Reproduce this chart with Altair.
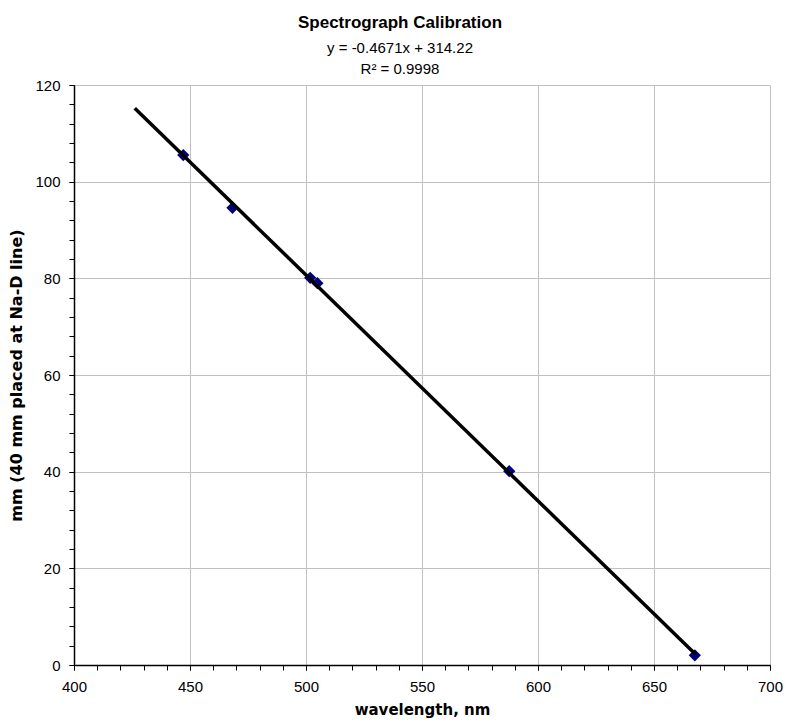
import altair as alt
import pandas as pd

# data
wavelength_nm = [447.1, 468.3, 501.8, 504.9, 587.6, 667.6]
mm_position = [105.5, 94.6, 80.1, 79.0, 40.1, 2.0]
trend_extent = [426.2, 668.0]

x_major = [400, 450, 500, 550, 600, 650, 700]
x_minor = list(range(400, 701, 10))
y_major = [0, 20, 40, 60, 80, 100, 120]
y_minor = list(range(0, 121, 4))

df = pd.DataFrame({"wl": wavelength_nm, "mm": mm_position})

FONT = "Liberation Sans"
TITLE_FONT = "DejaVu Sans"

xscale = alt.Scale(domain=[400, 700], nice=False, zero=False)
yscale = alt.Scale(domain=[0, 120], nice=False, zero=True)

base = alt.Chart(df)

points = base.mark_point(shape="diamond", filled=True, color="#000080", size=150, opacity=1).encode(
    x=alt.X("wl:Q", scale=xscale,
            axis=alt.Axis(orient="bottom", values=x_major, title="wavelength, nm", grid=True,
                          gridColor="#c0c0c0", gridWidth=1, domainColor="black", domainWidth=1.5,
                          tickColor="black", tickSize=5, tickWidth=1, labelFont=FONT, labelFontSize=15,
                          labelColor="black", labelPadding=9, titleFont=TITLE_FONT, titleFontSize=15,
                          titleFontWeight="bold", titleColor="black", titlePadding=8, labelFlush=False)),
    y=alt.Y("mm:Q", scale=yscale,
            axis=alt.Axis(orient="left", values=y_major, title="mm (40 mm placed at Na-D line)", grid=True,
                          gridColor="#c0c0c0", gridWidth=1, domainColor="black", domainWidth=1.5,
                          tickColor="black", tickSize=5, tickWidth=1, labelFont=FONT, labelFontSize=15,
                          labelColor="black", labelPadding=9, titleFont=TITLE_FONT, titleFontSize=16,
                          titleFontWeight="bold", titleColor="black", titlePadding=10, labelFlush=False)),
)

trend = base.transform_regression("wl", "mm", extent=trend_extent).mark_line(
    color="black", strokeWidth=3.5
).encode(
    x=alt.X("wl:Q", scale=xscale,
            axis=alt.Axis(orient="bottom", values=x_minor, labels=False, title=None, grid=False,
                          domain=False, tickColor="black", tickSize=5, tickWidth=1)),
    y=alt.Y("mm:Q", scale=yscale,
            axis=alt.Axis(orient="left", values=y_minor, labels=False, title=None, grid=False,
                          domain=False, tickColor="black", tickSize=5, tickWidth=1)),
)

chart = alt.layer(points, trend).resolve_axis(x="independent", y="independent").properties(
    width=696,
    height=580,
    autosize=alt.AutoSizeParams(type="none"),
    padding={"left": 66, "top": 77, "right": 13, "bottom": 55},
    title=alt.TitleParams(
        text="Spectrograph Calibration",
        subtitle=["y = -0.4671x + 314.22", "R² = 0.9998"],
        font=FONT, fontSize=17, fontWeight="bold", color="black",
        subtitleFont=FONT, subtitleFontSize=15, subtitleColor="black",
        subtitlePadding=9, subtitleLineHeight=21,
        anchor="middle", dx=-22, offset=0,
    ),
).configure_view(stroke="#808080", strokeWidth=1.5).configure(background="white")

chart.save("out.html", embed_options={"renderer": "svg", "actions": False})
